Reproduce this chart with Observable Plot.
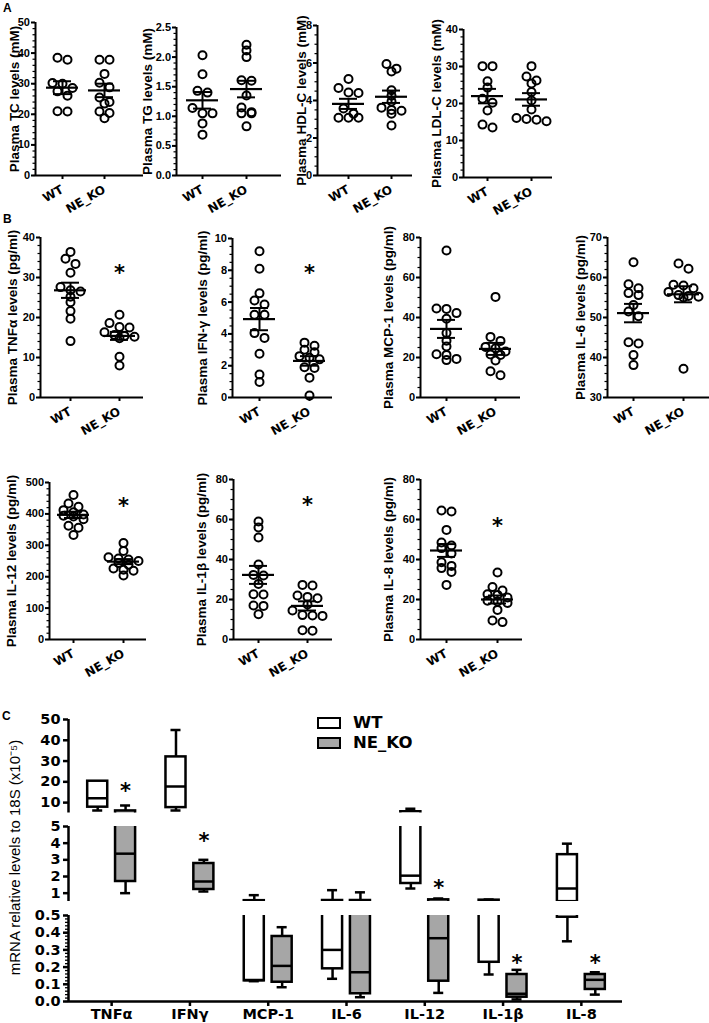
<!DOCTYPE html>
<html>
<head>
<meta charset="utf-8">
<script src="https://cdn.jsdelivr.net/npm/d3@7"></script>
<script src="https://cdn.jsdelivr.net/npm/@observablehq/plot@0.6"></script>
<style>
  body { margin: 0; background: white; }
  #fig { position: relative; width: 709px; height: 1023px; background: white; overflow: hidden; }
  .lett { position: absolute; font: bold 12px "Liberation Sans", Arial, sans-serif; }
  .leg { position: absolute; font: bold 16.5px "DejaVu Sans", sans-serif; line-height: 18px; }
  .lbox { position: absolute; box-sizing: border-box; width: 24px; height: 12px; border: 2.5px solid black; }
</style>
</head>
<body>
<div id="fig"></div>
<script>
// ---------------- DATA ----------------
const groups = ["WT", "NE_KO"];

// Panel A
const tcWT = [38.5, 37.8, 30.2, 30.0, 28.6, 27.5, 26.1, 21.0, 20.9];
const tcKO = [37.8, 37.8, 33.2, 30.3, 28.8, 25.5, 24.0, 23.5, 20.9, 20.4, 18.7];
const tcMean = [28.7, 27.8];
const tcSEM = [2.1, 2.2];

const tgWT = [2.03, 1.71, 1.43, 1.40, 1.14, 1.05, 1.05, 0.88, 0.69];
const tgKO = [2.21, 2.11, 2.00, 1.61, 1.60, 1.35, 1.15, 1.07, 1.05, 1.05, 0.83];
const tgMean = [1.27, 1.46];
const tgSEM = [0.14, 0.14];

const hdlWT = [5.15, 4.67, 4.43, 4.40, 3.57, 3.30, 3.08, 3.08, 3.08];
const hdlKO = [5.95, 5.70, 5.55, 4.55, 4.25, 3.95, 3.62, 3.50, 3.45, 3.30, 2.67];
const hdlMean = [3.82, 4.20];
const hdlSEM = [0.27, 0.33];

const ldlWT = [30.1, 30.1, 26.0, 24.3, 21.3, 20.2, 18.1, 14.3, 13.5];
const ldlKO = [30.1, 27.3, 26.2, 25.4, 23.1, 20.8, 18.4, 16.1, 15.8, 15.6, 15.2];
const ldlMean = [22.0, 21.1];
const ldlSEM = [1.95, 1.7];

// Panel B
const tnfWT = [36.4, 34.7, 33.4, 31.2, 27.6, 26.8, 26.5, 25.2, 23.8, 21.6, 19.7, 14.1];
const tnfKO = [20.7, 18.6, 17.6, 17.5, 16.3, 15.6, 15.4, 15.2, 14.8, 10.2, 8.0];
const tnfMean = [26.8, 15.4];
const tnfSEM = [1.9, 1.0];

const ifnWT = [9.2, 8.1, 6.55, 6.1, 5.85, 5.2, 5.2, 4.05, 3.75, 2.75, 1.45, 0.97];
const ifnKO = [3.45, 3.25, 3.0, 2.85, 2.6, 2.5, 2.4, 1.9, 1.85, 1.25, 0.12];
const ifnMean = [4.93, 2.3];
const ifnSEM = [0.7, 0.3];

const mcpWT = [73.5, 44.5, 44.3, 42.2, 39.4, 32.2, 28.4, 25.5, 21.6, 21.3, 19.3, 18.7];
const mcpKO = [50.3, 30.3, 28.3, 25.3, 24.6, 23.0, 21.5, 21.3, 18.5, 13.1, 11.1];
const mcpMean = [34.3, 24.3];
const mcpSEM = [4.5, 3.0];

const il6WT = [63.8, 58.3, 57.3, 56.1, 55.6, 53.1, 51.5, 50.3, 43.8, 43.5, 40.6, 38.1];
const il6KO = [63.5, 62.2, 58.2, 58.0, 57.3, 56.4, 55.6, 55.4, 55.2, 55.0, 37.2];
const il6Mean = [51.1, 55.8];
const il6SEM = [2.3, 2.0];

const il12WT = [460, 433, 423, 412, 405, 398, 394, 392, 383, 362, 356, 333];
const il12KO = [307, 282, 262, 258, 255, 250, 244, 238, 226, 222, 219, 204];
const il12Mean = [397, 248];
const il12SEM = [10, 8];

const il1bWT = [59, 56, 51, 37.5, 32.3, 32, 27.8, 22.6, 22.5, 17, 16.8, 12.6];
const il1bKO = [27.3, 27.0, 22.0, 21.3, 20.6, 17.5, 14.5, 12.2, 12.0, 11.8, 4.6, 4.4];
const il1bMean = [32.3, 16.8];
const il1bSEM = [4.5, 2.3];

const il8WT = [64.5, 64.0, 54.8, 48.5, 47.0, 45.7, 43.0, 38.6, 36.8, 35.7, 33.8, 27.3];
const il8KO = [33.5, 26.2, 24.5, 22.6, 22.3, 21.0, 19.4, 19.0, 18.3, 14.8, 9.5, 8.7];
const il8Mean = [44.5, 20.0];
const il8SEM = [3.2, 2.0];

// significance star heights (value units)
const starTNF = 32.5, starIFN = 8.2, starIL12 = 445, starIL1b = 70, starIL8 = 59.5;

// Panel C (mRNA, x10^-5) box plots: min, q1, median, q3, max
const cytokines = ["TNFα", "IFNγ", "MCP-1", "IL-6", "IL-12", "IL-1β", "IL-8"];
const wtMin = [6.2, 6.2, 0.118, 0.132, 1.28, 0.157, 0.35];
const wtQ1  = [7.8, 7.6, 0.12, 0.19, 1.58, 0.228, 0.49];
const wtMed = [12.1, 17.7, 0.125, 0.30, 2.05, 0.57, 1.28];
const wtQ3  = [20.3, 32, 0.55, 0.56, 5.6, 0.58, 3.31];
const wtMax = [20.3, 45, 0.88, 1.18, 7.0, 0.62, 3.97];
const koMin = [1.0, 1.1, 0.083, 0.025, 0.05, 0.012, 0.04];
const koQ1  = [1.7, 1.22, 0.112, 0.045, 0.118, 0.025, 0.07];
const koMed = [3.37, 1.7, 0.207, 0.17, 0.368, 0.045, 0.126];
const koQ3  = [6.0, 2.78, 0.378, 0.56, 0.6, 0.157, 0.157];
const koMax = [8.6, 3.0, 0.432, 1.05, 0.68, 0.184, 0.17];
const koStar = [18.2, 4.46, null, null, 1.64, 0.256, 0.256];

// ---------------- DRAWING ----------------
const fig = document.getElementById("fig");
const FT = "'DejaVu Sans', sans-serif";
const FL = "'Liberation Sans', Arial, sans-serif";

function arrange(vals, ypx, colW, rowH) {
  const items = vals.map((v, i) => ({i, py: ypx(v)})).sort((a, b) => a.py - b.py);
  const rows = [];
  for (const it of items) {
    const r = rows[rows.length - 1];
    if (r && it.py - r[0].py < rowH) r.push(it); else rows.push([it]);
  }
  const off = [];
  for (const r of rows) r.forEach((it, k) => off[it.i] = (k - (r.length - 1) / 2) * colW);
  return off;
}

function place(svg, left, top) {
  svg.style.position = "absolute";
  svg.style.left = left + "px";
  svg.style.top = top + "px";
  fig.appendChild(svg);
}

function dotPanel(c) {
  const ML = 60, MR = 8, MT = 14, MB = 52;
  const W = ML + (c.endX - c.axisX) + MR, H = MT + (c.zeroY - c.topY) + MB;
  const sx = c.axisX - ML, sy = c.topY - MT;
  const span = c.koX - c.wtX;
  const ypx = d3.scaleLinear(c.domain, [c.zeroY, c.topY]);
  const pts = [];
  c.data.forEach((vals, g) => {
    const off = arrange(vals, ypx, 10, 5.5);
    vals.forEach((v, i) => pts.push({x: g + off[i] / span, y: v}));
  });
  const stats = groups.map((_, g) => ({x: g, m: c.mean[g], s: c.sem[g]}));
  const hw = 16 / span, cw = 9 / span;
  const [lo, hi] = c.domain;
  const major = d3.range(Math.round((hi - lo) / c.major) + 1).map(i => lo + i * c.major);
  const minor = d3.range(Math.round((hi - lo) / c.minor) + 1).map(i => lo + i * c.minor);
  const axisXv = (c.axisX - c.wtX) / span;
  const labelXv = (c.labelX - c.wtX) / span;
  const marks = [
    Plot.axisY({ticks: minor, tickSize: 2.5, tickFormat: () => "", strokeWidth: 1.2, label: null}),
    Plot.axisY({ticks: major, tickSize: 4, tickPadding: 1.5, tickFormat: c.fmt, strokeWidth: 2,
      fontSize: 11, fontFamily: FL, label: null}),
    Plot.axisX({ticks: [0, 1], tickFormat: i => groups[i], tickRotate: -30, tickSize: 4, tickPadding: 9, strokeWidth: 2,
      fontSize: 12, label: null}),
    Plot.ruleX([axisXv], {strokeWidth: 2}),
    Plot.ruleY([lo], {strokeWidth: 2}),
    Plot.dot(pts, {x: "x", y: "y", r: 4, stroke: "black", strokeWidth: 2, fill: "none"}),
    Plot.ruleY(stats, {y: "m", x1: d => d.x - hw, x2: d => d.x + hw, strokeWidth: 2.2}),
    Plot.ruleX(stats, {x: "x", y1: d => d.m - d.s, y2: d => d.m + d.s, strokeWidth: 2}),
    Plot.ruleY(stats, {y: d => d.m + d.s, x1: d => d.x - cw, x2: d => d.x + cw, strokeWidth: 2}),
    Plot.ruleY(stats, {y: d => d.m - d.s, x1: d => d.x - cw, x2: d => d.x + cw, strokeWidth: 2}),
    Plot.text([c.label], {x: () => labelXv, y: () => (lo + hi) / 2, text: d => d, rotate: -90,
      textAnchor: "middle", lineAnchor: "middle", fontSize: 13.5, fontWeight: "bold", fontFamily: FL})
  ];
  if (c.star != null) marks.push(Plot.text([c.star], {x: () => 1, y: d => d, text: () => "*", fontSize: 21, dy: 6}));
  const svg = Plot.plot({
    width: W, height: H, marginLeft: ML, marginRight: MR, marginTop: MT, marginBottom: MB,
    style: {background: "transparent", overflow: "visible", fontFamily: FT, fontWeight: "bold", fontSize: "11px", color: "black"},
    x: {type: "linear", domain: [0, 1], range: [c.wtX - sx, c.koX - sx]},
    y: {type: "linear", domain: c.domain},
    marks
  });
  place(svg, sx, sy);
}

const f0 = d3.format("d"), f1 = d3.format(".1f");
const panels = [
  {data: [tcWT, tcKO], mean: tcMean, sem: tcSEM, label: "Plasma TC levels (mM)", domain: [0, 50], major: 10, minor: 2, fmt: f0,
   axisX: 35, topY: 22, zeroY: 175, endX: 143, wtX: 62, koX: 104, labelX: 14},
  {data: [tgWT, tgKO], mean: tgMean, sem: tgSEM, label: "Plasma TG levels (mM)", domain: [0, 2.5], major: 0.5, minor: 0.1, fmt: f1,
   axisX: 176, topY: 27, zeroY: 175, endX: 281, wtX: 202, koX: 246, labelX: 147},
  {data: [hdlWT, hdlKO], mean: hdlMean, sem: hdlSEM, label: "Plasma HDL-C levels (mM)", domain: [0, 8], major: 2, minor: 0.5, fmt: f0,
   axisX: 317, topY: 25, zeroY: 175, endX: 412, wtX: 348, koX: 391, labelX: 301},
  {data: [ldlWT, ldlKO], mean: ldlMean, sem: ldlSEM, label: "Plasma LDL-C levels (mM)", domain: [0, 40], major: 10, minor: 2, fmt: f0,
   axisX: 463, topY: 29, zeroY: 177, endX: 552, wtX: 487, koX: 531, labelX: 436},
  {data: [tnfWT, tnfKO], mean: tnfMean, sem: tnfSEM, label: "Plasma TNFα levels (pg/ml)", domain: [0, 40], major: 10, minor: 2, fmt: f0,
   axisX: 40, topY: 237, zeroY: 397, endX: 143, wtX: 70, koX: 119, labelX: 12, star: starTNF},
  {data: [ifnWT, ifnKO], mean: ifnMean, sem: ifnSEM, label: "Plasma IFN-γ levels (pg/ml)", domain: [0, 10], major: 2, minor: 0.5, fmt: f0,
   axisX: 232, topY: 238, zeroY: 397, endX: 332, wtX: 259, koX: 309, labelX: 202, star: starIFN},
  {data: [mcpWT, mcpKO], mean: mcpMean, sem: mcpSEM, label: "Plasma MCP-1 levels (pg/ml)", domain: [0, 80], major: 20, minor: 5, fmt: f0,
   axisX: 420, topY: 237, zeroY: 397, endX: 520, wtX: 446, koX: 495, labelX: 388},
  {data: [il6WT, il6KO], mean: il6Mean, sem: il6SEM, label: "Plasma IL-6 levels (pg/ml)", domain: [30, 70], major: 10, minor: 2, fmt: f0,
   axisX: 607, topY: 237, zeroY: 397, endX: 709, wtX: 633, koX: 683, labelX: 580},
  {data: [il12WT, il12KO], mean: il12Mean, sem: il12SEM, label: "Plasma IL-12 levels (pg/ml)", domain: [0, 500], major: 100, minor: 20, fmt: f0,
   axisX: 49, topY: 482, zeroY: 639, endX: 146, wtX: 73, koX: 123, labelX: 11, star: starIL12},
  {data: [il1bWT, il1bKO], mean: il1bMean, sem: il1bSEM, label: "Plasma IL-1β levels (pg/ml)", domain: [0, 80], major: 20, minor: 5, fmt: f0,
   axisX: 233, topY: 479, zeroY: 639, endX: 332, wtX: 258, koX: 307, labelX: 201, star: starIL1b},
  {data: [il8WT, il8KO], mean: il8Mean, sem: il8SEM, label: "Plasma IL-8 levels (pg/ml)", domain: [0, 80], major: 20, minor: 5, fmt: f0,
   axisX: 420, topY: 479, zeroY: 639, endX: 522, wtX: 446, koX: 497, labelX: 388, star: starIL8}
];
panels.forEach(dotPanel);

// ---- Panel C: broken-axis box plots ----
const boxes = [];
cytokines.forEach((c, i) => {
  boxes.push({x: i - 0.178, min: wtMin[i], q1: wtQ1[i], med: wtMed[i], q3: wtQ3[i], max: wtMax[i], fill: "white"});
  boxes.push({x: i + 0.178, min: koMin[i], q1: koQ1[i], med: koMed[i], q3: koQ3[i], max: koMax[i], fill: "#a6a6a6"});
});
const stars = koStar.map((v, i) => ({x: i + 0.178, y: v})).filter(d => d.y != null);
const BW = 0.128, CW = 0.064;

function boxSeg(s) {
  const ML = 68, MR = 709 - 622, MT = 12, MB = s.xaxis ? 36 : 4;
  const H = MT + (s.bottomY - s.topY) + MB;
  const sy = s.topY - MT;
  const xr = [72, 620];
  const unit = (xr[1] - xr[0]) / 7;
  const axisXv = -0.5 + (ML - xr[0]) / unit;
  const [d0, d1] = s.domain;
  const segStars = stars.filter(d => d.y >= d0 && d.y <= d1);
  const marks = [];
  if (s.minor) marks.push(Plot.axisY({ticks: s.minor, tickSize: 3, tickFormat: () => "", strokeWidth: 1.3, label: null}));
  marks.push(
    Plot.axisY({ticks: s.ticks, tickSize: 5, tickPadding: 3, tickFormat: s.fmt, strokeWidth: 2.5, fontSize: 14.5, label: null}),
    Plot.ruleX([axisXv], {strokeWidth: 2.5}),
    Plot.ruleX(boxes, {x: "x", y1: "q3", y2: "max", strokeWidth: 2.5, clip: true}),
    Plot.ruleX(boxes, {x: "x", y1: "min", y2: "q1", strokeWidth: 2.5, clip: true}),
    Plot.ruleY(boxes, {y: "max", x1: d => d.x - CW, x2: d => d.x + CW, strokeWidth: 2.5, clip: true}),
    Plot.ruleY(boxes, {y: "min", x1: d => d.x - CW, x2: d => d.x + CW, strokeWidth: 2.5, clip: true}),
    Plot.rect(boxes, {x1: d => d.x - BW, x2: d => d.x + BW, y1: "q1", y2: "q3", fill: "fill", stroke: "black", strokeWidth: 2.5, clip: true}),
    Plot.ruleY(boxes, {y: "med", x1: d => d.x - BW, x2: d => d.x + BW, strokeWidth: 2.5, clip: true}),
    Plot.text(segStars, {x: "x", y: "y", text: () => "*", fontSize: 21, dy: 6, fontFamily: FT})
  );
  if (s.xaxis) {
    marks.push(
      Plot.ruleY([d0], {strokeWidth: 2.5}),
      Plot.axisX({ticks: d3.range(7), tickFormat: i => cytokines[i], tickSize: 5, tickPadding: 2, strokeWidth: 2.5, fontSize: 14.5, label: null})
    );
  }
  if (s.ylabel) {
    const yv = d0 + (s.bottomY - s.labelY) / (s.bottomY - s.topY) * (d1 - d0);
    const xv = -0.5 + (15 - xr[0]) / unit;
    marks.push(Plot.text([s.ylabel], {x: () => xv, y: () => yv, text: d => d, rotate: -90,
      textAnchor: "middle", lineAnchor: "middle", fontSize: 15, fontWeight: "normal", fontFamily: FL}));
  }
  const svg = Plot.plot({
    width: 709, height: H, marginLeft: ML, marginRight: MR, marginTop: MT, marginBottom: MB,
    style: {background: "transparent", overflow: "visible", fontFamily: FT, fontWeight: "bold", fontSize: "14.5px", color: "black"},
    x: {type: "linear", domain: [-0.5, 6.5], range: xr, axis: s.xaxis ? undefined : null},
    y: {type: "linear", domain: s.domain},
    marks
  });
  place(svg, 0, sy);
}

boxSeg({domain: [5, 50], topY: 719, bottomY: 812.5, ticks: [10, 20, 30, 40, 50], fmt: f0});
boxSeg({domain: [0.5, 5], topY: 826, bottomY: 901, ticks: [1, 2, 3, 4, 5], fmt: f0,
  ylabel: "mRNA relative levels to 18S (x10⁻⁵)", labelY: 857});
boxSeg({domain: [0, 0.5], topY: 915, bottomY: 1001, ticks: d3.range(6).map(i => i * 0.1), fmt: f1,
  minor: d3.range(26).map(i => i * 0.02), xaxis: true});

// ---- panel letters and legend ----
function addDiv(cls, text, left, top, extra) {
  const d = document.createElement("div");
  d.className = cls; d.textContent = text;
  d.style.left = left + "px"; d.style.top = top + "px";
  if (extra) Object.assign(d.style, extra);
  fig.appendChild(d);
}
addDiv("lett", "A", 3, 1);
addDiv("lett", "B", 3, 212);
addDiv("lett", "C", 2, 709);
addDiv("lbox", "", 317, 717, {background: "white"});
addDiv("lbox", "", 317, 737, {background: "#a6a6a6"});
addDiv("leg", groups[0], 353, 714);
addDiv("leg", groups[1], 353, 734);
</script>
</body>
</html>
